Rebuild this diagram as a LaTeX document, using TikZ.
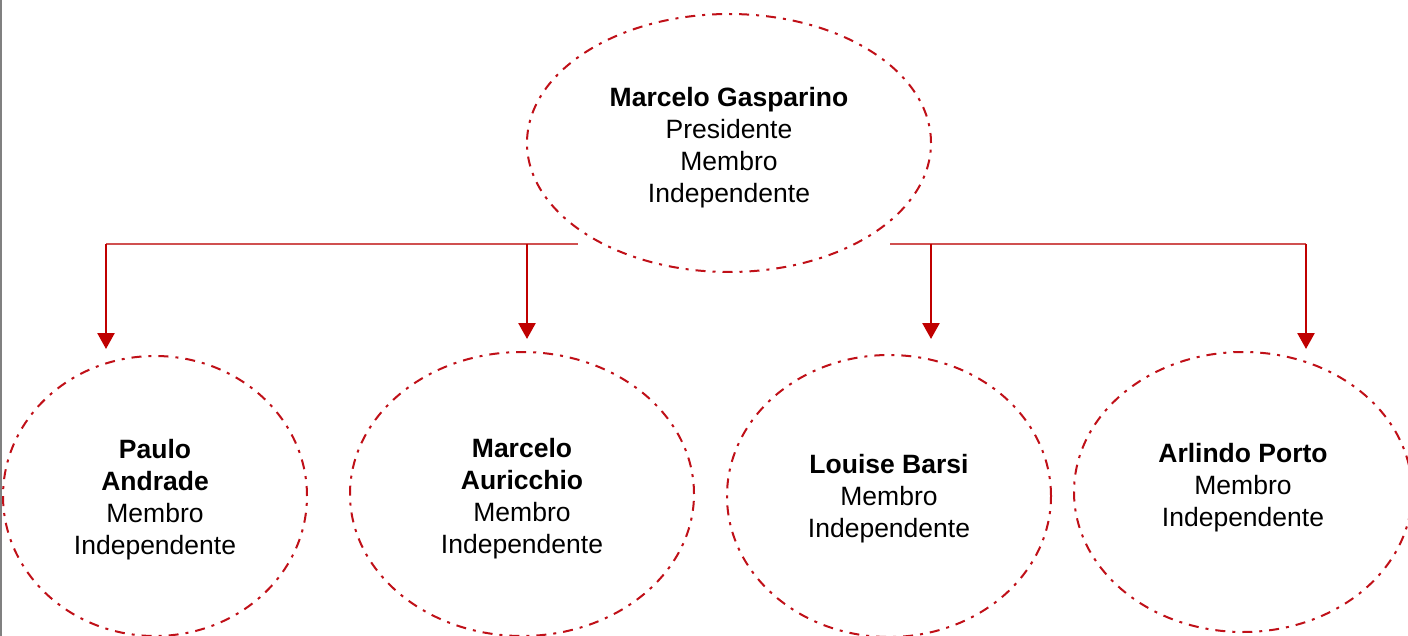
\documentclass[tikz,border=0pt]{standalone}
\usepackage{fontspec}
\setmainfont{Liberation Sans}
\usetikzlibrary{shapes.geometric,arrows.meta}
\definecolor{ellred}{RGB}{192,16,24}
\definecolor{busred}{RGB}{208,80,80}
\definecolor{arrred}{RGB}{192,0,0}
\tikzset{
  person/.style={ellipse, draw=ellred, line width=2pt, fill=white,
    dash pattern=on 10pt off 7pt on 3pt off 7pt, inner sep=0pt},
  label text/.style={align=center, inner sep=0pt, font=\fontsize{26.5}{32}\selectfont},
  bus/.style={draw=busred, line width=1.6pt},
  drop/.style={draw=arrred, line width=2.6pt, -{Triangle[width=17pt,length=16pt]}},
}
\begin{document}
\begin{tikzpicture}[x=1pt,y=-1pt]
\useasboundingbox (0,0) rectangle (1408,636);
\fill[white] (0,0) rectangle (1408,636);
\draw[gray, line width=2pt] (1,0) -- (1,636);
% bus
\coordinate (b1) at (106,244);
\coordinate (b2) at (527,244);
\coordinate (b3) at (931,244);
\coordinate (b4) at (1306,244);
\coordinate (bl) at (578,244);
\coordinate (br) at (890,244);
\coordinate (t1) at (106,349);
\coordinate (t2) at (527,339);
\coordinate (t3) at (931,339);
\coordinate (t4) at (1306,349);
\draw[bus] (b1) -- (bl);
\draw[bus] (br) -- (b4);
\node[person, minimum width=404pt, minimum height=258pt] (top) at (729,143) {};
\node[label text] (topt) at (729,147.5)
  {\textbf{Marcelo Gasparino}\\Presidente\\Membro\\Independente};
\draw[drop] (b1) -- (t1);
\draw[drop] (b2) -- (t2);
\draw[drop] (b3) -- (t3);
\draw[drop] (b4) -- (t4);
\node[person, minimum width=304pt, minimum height=280pt] (p1) at (155,496) {};
\node[label text] (p1t) at (155,500)
  {\textbf{Paulo}\\\textbf{Andrade}\\Membro\\Independente};
\node[person, minimum width=344pt, minimum height=284pt] (p2) at (522,494) {};
\node[label text] (p2t) at (522,499)
  {\textbf{Marcelo}\\\textbf{Auricchio}\\Membro\\Independente};
\node[person, minimum width=324pt, minimum height=282pt] (p3) at (889,496) {};
\node[label text] (p3t) at (889,499)
  {\textbf{Louise Barsi}\\Membro\\Independente};
\node[person, minimum width=338pt, minimum height=280pt] (p4) at (1243,492) {};
\node[label text] (p4t) at (1243,488)
  {\textbf{Arlindo Porto}\\Membro\\Independente};
\end{tikzpicture}
\end{document}
